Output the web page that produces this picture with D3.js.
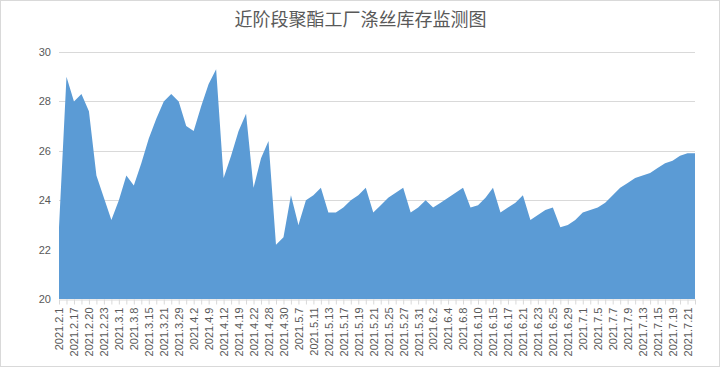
<!DOCTYPE html>
<html>
<head>
<meta charset="utf-8">
<script src="https://cdn.jsdelivr.net/npm/d3@7"></script>
<style>
  body { margin: 0; background: #fff; }
  svg { display: block; }
  .title { font-family: 'Noto Sans CJK SC', sans-serif; font-size: 18px; fill: #595959; }
  .axis text { font-family: 'Liberation Sans', Arial, sans-serif; font-size: 11px; fill: #595959; }
</style>
</head>
<body>
<script>
// tick labels, shown on every second category
const tickLabels = [
  '2021.2.1', '2021.2.17', '2021.2.20', '2021.2.23', '2021.3.1', '2021.3.8', '2021.3.15',
  '2021.3.21', '2021.3.29', '2021.4.2', '2021.4.9', '2021.4.12', '2021.4.19', '2021.4.22',
  '2021.4.28', '2021.4.30', '2021.5.7', '2021.5.11', '2021.5.13', '2021.5.17', '2021.5.19',
  '2021.5.21', '2021.5.25', '2021.5.27', '2021.5.31', '2021.6.2', '2021.6.4', '2021.6.8',
  '2021.6.10', '2021.6.15', '2021.6.17', '2021.6.21', '2021.6.23', '2021.6.25', '2021.6.29',
  '2021.7.1', '2021.7.5', '2021.7.7', '2021.7.9', '2021.7.13', '2021.7.15', '2021.7.19',
  '2021.7.21'
];

// inventory days, one per category
const values = [
  22.9, 29.0, 28.0, 28.3, 27.6, 25.0, 24.1, 23.2, 24.0, 25.0,
  24.6, 25.5, 26.5, 27.3, 28.0, 28.3, 28.0, 27.0, 26.8, 27.8,
  28.7, 29.3, 24.9, 25.8, 26.8, 27.5, 24.5, 25.7, 26.4, 22.2,
  22.5, 24.2, 23.0, 24.0, 24.2, 24.5, 23.5, 23.5, 23.7, 24.0,
  24.2, 24.5, 23.5, 23.8, 24.1, 24.3, 24.5, 23.5, 23.7, 24.0,
  23.7, 23.9, 24.1, 24.3, 24.5, 23.7, 23.8, 24.1, 24.5, 23.5,
  23.7, 23.9, 24.2, 23.2, 23.4, 23.6, 23.7, 22.9, 23.0, 23.2,
  23.5, 23.6, 23.7, 23.9, 24.2, 24.5, 24.7, 24.9, 25.0, 25.1,
  25.3, 25.5, 25.6, 25.8, 25.9, 25.9
];

const yTicks = [20, 22, 24, 26, 28, 30];

const title = '近阶段聚酯工厂涤丝库存监测图';

let WIDTH = 721,
    HEIGHT = 368,
    margin = { top: 52, right: 26, bottom: 69, left: 59 };

let stage = d3.select('body')
  .append('svg')
  .attr('xmlns', 'http://www.w3.org/2000/svg')
  .attr('width', WIDTH)
  .attr('height', HEIGHT);

// chart border
stage.append('rect')
  .attr('x', 0.5)
  .attr('y', 0.5)
  .attr('width', WIDTH - 2)
  .attr('height', HEIGHT - 2)
  .attr('fill', '#fff')
  .attr('stroke', '#d9d9d9');

let categories = d3.range(values.length);

let x = d3.scalePoint()
  .domain(categories)
  .range([margin.left, WIDTH - margin.right]);

let y = d3.scaleLinear()
  .domain([20, 30])
  .range([HEIGHT - margin.bottom, margin.top]);

// gridlines
stage.append('g')
  .selectAll('line')
  .data(yTicks.slice(1))
  .enter()
  .append('line')
  .attr('x1', margin.left)
  .attr('x2', WIDTH - margin.right)
  .attr('y1', function(d) { return Math.round(y(d)) + 0.5; })
  .attr('y2', function(d) { return Math.round(y(d)) + 0.5; })
  .attr('stroke', '#d9d9d9');

// the area itself
let area = d3.area()
  .x(function(d, i) { return x(i); })
  .y0(y(20))
  .y1(function(d) { return y(d); });

stage.append('path')
  .datum(values)
  .attr('d', area)
  .attr('fill', '#5b9bd5');

// y axis, labels only
let yAxis = stage.append('g')
  .attr('class', 'axis')
  .attr('transform', 'translate(' + (margin.left - 8) + ',0)')
  .call(d3.axisLeft(y).tickValues(yTicks).tickSize(0).tickPadding(0));
yAxis.select('.domain').remove();

// x axis with a tick on every category, label on every second one
let xAxis = stage.append('g')
  .attr('class', 'axis')
  .attr('transform', 'translate(0,' + (Math.round(y(20)) + 0.5) + ')')
  .call(d3.axisBottom(x)
    .tickSizeOuter(0)
    .tickSizeInner(5)
    .tickFormat(function(d) { return d % 2 === 0 ? tickLabels[d / 2] : ''; }));

xAxis.select('.domain').attr('stroke', '#d9d9d9');
xAxis.selectAll('.tick line').attr('stroke', '#d9d9d9');
xAxis.selectAll('.tick text')
  .attr('transform', 'rotate(-90)')
  .attr('text-anchor', 'end')
  .attr('x', -8)
  .attr('y', 0)
  .attr('dy', '0.35em');

// title
stage.append('text')
  .attr('class', 'title')
  .attr('x', WIDTH / 2)
  .attr('y', 26)
  .attr('text-anchor', 'middle')
  .text(title);
</script>
</body>
</html>
